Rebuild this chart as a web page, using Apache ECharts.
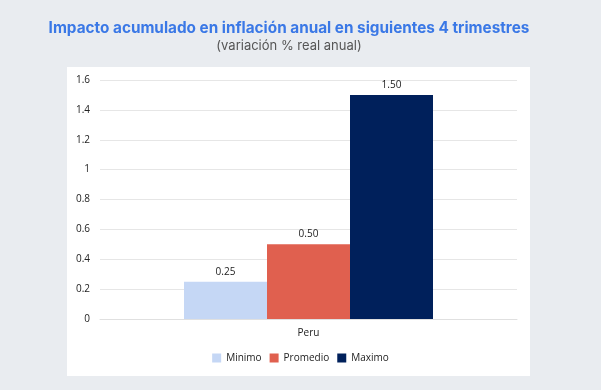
<!DOCTYPE html>
<html>
<head>
<meta charset="utf-8">
<title>Impacto acumulado</title>
<script src="https://cdn.jsdelivr.net/npm/echarts@6/dist/echarts.min.js"></script>
<style>
  body { margin: 0; background: #e9ecf0; }
  #chart { width: 601px; height: 390px; }
</style>
</head>
<body>
<div id="chart"></div>
<script>
var categories = ['Peru'];
var seriesNames = ['Minimo', 'Promedio', 'Maximo'];
var seriesValues = [[0.25], [0.50], [1.50]];
var seriesColors = ['#c5d7f5', '#e0604f', '#00205b'];

var chart = echarts.init(document.getElementById('chart'));

var series = [];
for (var i = 0; i < seriesNames.length; i++) {
  series.push({
    name: seriesNames[i],
    type: 'bar',
    data: seriesValues[i],
    barWidth: 83,
    barGap: 0,
    itemStyle: { color: seriesColors[i] },
    label: {
      show: true,
      position: 'top',
      distance: 5,
      color: '#222',
      fontSize: 10,
      fontFamily: 'Open Sans',
      formatter: function (p) { return p.value.toFixed(2); }
    }
  });
}

var option = {
  backgroundColor: '#e9ecf0',
  animation: false,
  graphic: [{
    type: 'rect',
    z: -10,
    shape: { x: 67, y: 67, width: 463, height: 309 },
    style: { fill: '#ffffff' }
  }, {
    // titulo centrado sobre el panel, no sobre la ventana
    type: 'text',
    x: 289, y: 28,
    style: {
      text: 'Impacto acumulado en inflación anual en siguientes 4 trimestres',
      fill: '#3a78e6', fontSize: 15.3, fontWeight: 'bold', fontFamily: 'Inter',
      align: 'center', verticalAlign: 'middle'
    }
  }, {
    type: 'text',
    x: 289, y: 46,
    style: {
      text: '(variación % real anual)',
      fill: '#555', fontSize: 13, fontFamily: 'Inter',
      align: 'center', verticalAlign: 'middle'
    }
  }],
  legend: {
    data: seriesNames,
    bottom: 22,
    left: 'center',
    itemWidth: 9,
    itemHeight: 9,
    itemGap: 8,
    icon: 'rect',
    textStyle: { fontSize: 10, color: '#222', fontFamily: 'Open Sans' }
  },
  grid: { left: 100, right: 84, top: 80, bottom: 71 },
  xAxis: {
    type: 'category',
    data: categories,
    axisLine: { show: true, lineStyle: { color: '#e0e0e0' } },
    axisTick: { show: false },
    axisLabel: { color: '#222', fontSize: 10, margin: 9, fontFamily: 'Open Sans' }
  },
  yAxis: {
    type: 'value',
    min: 0,
    max: 1.6,
    interval: 0.2,
    axisLine: { show: false },
    axisTick: { show: false },
    axisLabel: {
      color: '#222', fontSize: 10, margin: 10, fontFamily: 'Open Sans',
      formatter: function (v) { return String(Math.round(v * 10) / 10); }
    },
    splitLine: { lineStyle: { color: '#e6e6e6' } }
  },
  series: series
};
chart.setOption(option);
</script>
</body>
</html>
